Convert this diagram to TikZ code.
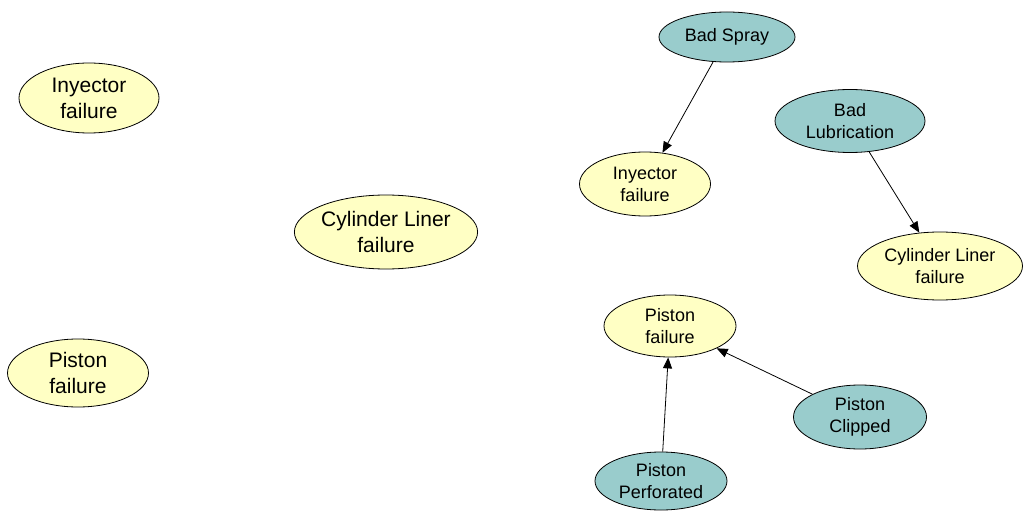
\documentclass[tikz,border=0pt]{standalone}
\usepackage{fontspec}
\setmainfont{Liberation Sans}
\usetikzlibrary{shapes.geometric,arrows.meta}
\definecolor{failfill}{HTML}{FFFFC4}
\definecolor{causefill}{HTML}{99CCCC}
\begin{document}
\begin{tikzpicture}[x=1pt,y=-1pt,
  ev/.style={ellipse,draw=black,line width=0.8pt,inner sep=0pt,align=center},
  bigfail/.style={ev,fill=failfill,font=\fontsize{21}{26}\selectfont},
  fail/.style={ev,fill=failfill,font=\fontsize{18}{22}\selectfont},
  cause/.style={ev,fill=causefill,font=\fontsize{18}{22}\selectfont},
  link/.style={line width=0.8pt,-{Triangle[length=11pt,width=9pt]}}]
\useasboundingbox[fill=white] (0,0) rectangle (1025,513);
% unconnected failures on the left
\node[bigfail,minimum width=140,minimum height=70] (inyL) at (89,98) {Inyector\\failure};
\node[bigfail,minimum width=180,minimum height=74] (cylL) at (386,232) {Cylinder Liner\\failure};
\node[bigfail,minimum width=141,minimum height=68] (pisL) at (78,373) {Piston\\failure};
% cause network on the right
\node[cause,minimum width=136,minimum height=50] (spray) at (727,37) {Bad Spray};
\node[fail,minimum width=131,minimum height=64] (inyR) at (645,184) {Inyector\\failure};
\node[cause,minimum width=150,minimum height=63] (lub) at (850,121) {Bad\\Lubrication};
\node[fail,minimum width=165,minimum height=68] (cylR) at (940,266) {Cylinder Liner\\failure};
\node[fail,minimum width=132,minimum height=62] (pisR) at (670,326) {Piston\\failure};
\node[cause,minimum width=133,minimum height=64] (clip) at (860,417) {Piston\\Clipped};
\node[cause,minimum width=132,minimum height=58] (perf) at (661,481) {Piston\\Perforated};
% cause -> effect arrows
\draw[link] (spray) -- (inyR);
\draw[link] (lub) -- (cylR);
\draw[link] (clip) -- (pisR);
\draw[link] (perf) -- (pisR);
\end{tikzpicture}
\end{document}
